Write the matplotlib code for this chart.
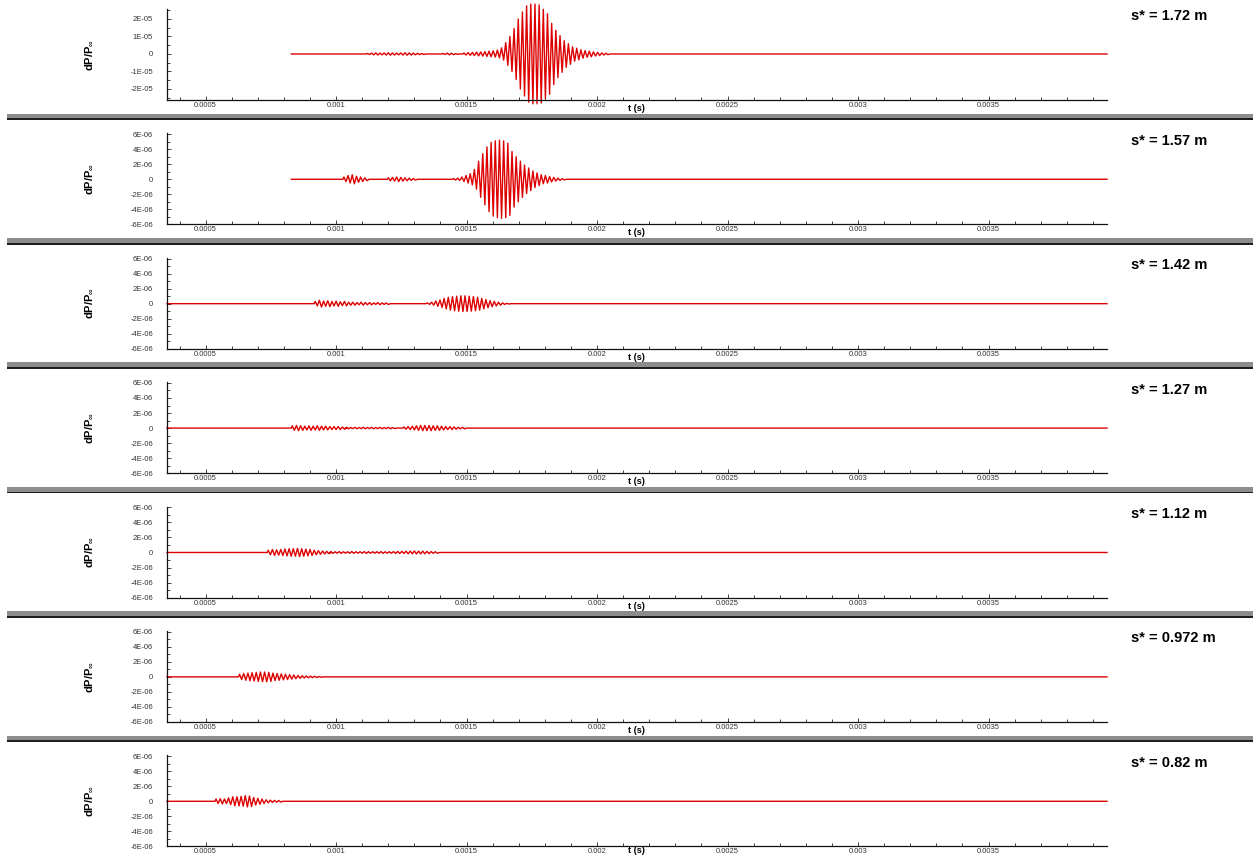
import numpy as np
import matplotlib
matplotlib.use('Agg')
import matplotlib.pyplot as plt
from matplotlib.patches import Rectangle
from matplotlib.ticker import FixedLocator, MultipleLocator

plt.rcParams['font.family'] = ['Liberation Sans', 'DejaVu Sans']
plt.rcParams['mathtext.fontset'] = 'custom'
plt.rcParams['mathtext.rm'] = 'Liberation Sans'
plt.rcParams['mathtext.bf'] = 'Liberation Sans:bold'

### station labels, one per panel (top to bottom)
stations = ['s* = 1.72 m', 's* = 1.57 m', 's* = 1.42 m', 's* = 1.27 m',
            's* = 1.12 m', 's* = 0.972 m', 's* = 0.82 m']

### time axis
t_min = 0.000352
t_max = 0.003954
x_ticks = [0.0005, 0.001, 0.0015, 0.002, 0.0025, 0.003, 0.0035]
x_labels = ['0.0005', '0.001', '0.0015', '0.002', '0.0025', '0.003', '0.0035']

### y ticks
y_ticks_big = [2e-5, 1e-5, 0, -1e-5, -2e-5]
y_labels_big = ['2E-05', '1E-05', '0', '-1E-05', '-2E-05']
y_ticks_small = [6e-6, 4e-6, 2e-6, 0, -2e-6, -4e-6, -6e-6]
y_labels_small = ['6E-06', '4E-06', '2E-06', '0', '-2E-06', '-4E-06', '-6E-06']

### where each trace starts (s)
trace_start = [0.000828, 0.000828, t_min, t_min, t_min, t_min, t_min]

### wave packets: (start time in s, peak amplitude per 16 us cycle in 1E-06)
cycle = 16e-6

packets_172 = [
    (0.00112, [0.3, 0.5, 0.6, 0.5, 0.6, 0.7, 0.6, 0.5, 0.6, 0.7, 0.6, 0.5, 0.4, 0.3]),
    (0.00141, [0.3, 0.5, 0.4, 0.2]),
    (0.00149, [0.6, 0.8, 0.9, 1.1, 1.2, 1.4, 1.6, 1.8, 2.2, 3.5, 6.5, 10, 14.5, 20,
               24, 27.5, 28.5, 28.5, 28, 25.5, 23, 17.5, 13.5, 10.5, 7.6, 5.9, 4.1,
               3.3, 2.4, 1.9, 1.6, 1.2, 0.9, 0.6, 0.4]),
]
packets_157 = [
    (0.00103, [0.3, 0.5, 0.6, 0.4, 0.3, 0.2]),
    (0.00120, [0.2, 0.25, 0.3, 0.25, 0.2, 0.15, 0.1]),
    (0.00145, [0.1, 0.15, 0.3, 0.5, 0.75, 1.3, 2.4, 3.4, 4.3, 4.9, 5.1, 5.2, 5.1,
               4.8, 3.7, 3.0, 2.4, 1.9, 1.5, 1.1, 0.85, 0.6, 0.5, 0.35, 0.25, 0.15,
               0.08]),
]
packets_142 = [
    (0.00092, [0.3, 0.45, 0.35, 0.4, 0.3, 0.35, 0.25, 0.3, 0.2, 0.2, 0.15, 0.2,
               0.15, 0.15, 0.1, 0.15, 0.1, 0.1]),
    (0.00135, [0.1, 0.2, 0.35, 0.5, 0.7, 0.85, 0.95, 1.0, 1.05, 1.05, 1.0, 0.95,
               0.85, 0.7, 0.55, 0.4, 0.3, 0.2, 0.1, 0.05]),
]
packets_127 = [
    (0.000832, [0.3, 0.35, 0.3, 0.25, 0.3, 0.25, 0.3, 0.25, 0.25, 0.2, 0.2, 0.2,
                0.15]),
    (0.00104, [0.1, 0.08, 0.1, 0.08, 0.1, 0.08, 0.1, 0.08, 0.1, 0.08, 0.1, 0.08]),
    (0.00126, [0.15, 0.2, 0.25, 0.3, 0.35, 0.35, 0.35, 0.3, 0.3, 0.25, 0.2, 0.2,
               0.15, 0.1, 0.1]),
]
packets_112 = [
    (0.00074, [0.3, 0.4, 0.35, 0.4, 0.45, 0.5, 0.5, 0.55, 0.5, 0.45, 0.4, 0.3,
               0.25, 0.2, 0.15]),
    (0.00098, [0.12, 0.1, 0.12, 0.1, 0.1, 0.12, 0.1, 0.1, 0.12, 0.1, 0.1, 0.1,
               0.12, 0.1, 0.1, 0.12, 0.14, 0.15, 0.18, 0.18, 0.2, 0.18, 0.18, 0.15,
               0.12, 0.1]),
]
packets_0972 = [
    (0.00063, [0.35, 0.45, 0.5, 0.55, 0.6, 0.65, 0.65, 0.6, 0.5, 0.45, 0.4, 0.35,
               0.3, 0.25, 0.2, 0.15, 0.12, 0.1, 0.08, 0.05]),
]
packets_082 = [
    (0.00054, [0.3, 0.35, 0.3, 0.45, 0.6, 0.6, 0.65, 0.75, 0.7, 0.5, 0.4, 0.3,
               0.2, 0.15, 0.12, 0.1]),
]
all_packets = [packets_172, packets_157, packets_142, packets_127,
               packets_112, packets_0972, packets_082]


def build_trace(t_first, t_last, packets):
    ### flat line with the listed peaks drawn as alternating +/- excursions
    t = [t_first]
    y = [0.0]
    for t0, amps in packets:
        t.append(t0 - cycle / 4)
        y.append(0.0)
        for i, a in enumerate(amps):
            t += [t0 + i * cycle, t0 + i * cycle + cycle / 2]
            y += [a * 1e-6, -a * 1e-6]
        t.append(t0 + len(amps) * cycle)
        y.append(0.0)
    t.append(t_last)
    y.append(0.0)
    return np.array(t), np.array(y)


W, H = 1253, 856
fig = plt.figure(figsize=(W / 100, H / 100), dpi=100)
pitch = 124.4

for k in range(7):
    top = 9 + pitch * k
    bottom = 100 + pitch * k
    ax = fig.add_axes([167 / W, 1 - bottom / H, 940 / W, (bottom - top) / H])

    t, y = build_trace(trace_start[k], t_max, all_packets[k])
    ax.plot(t, y, color='#dd0000', lw=1.0, clip_on=False)

    ax.set_xlim(t_min, t_max)
    if k == 0:
        ax.set_ylim(-2.63e-5, 2.57e-5)
        ax.yaxis.set_major_locator(FixedLocator(y_ticks_big))
        ax.set_yticklabels(y_labels_big)
        ax.yaxis.set_minor_locator(MultipleLocator(0.5e-5))
    else:
        ax.set_ylim(-6e-6, 6.1e-6)
        ax.yaxis.set_major_locator(FixedLocator(y_ticks_small))
        ax.set_yticklabels(y_labels_small)
        ax.yaxis.set_minor_locator(MultipleLocator(1e-6))

    ax.xaxis.set_major_locator(FixedLocator(x_ticks))
    ax.set_xticklabels(x_labels)
    ax.xaxis.set_minor_locator(MultipleLocator(0.0001))

    ### thin inward ticks, small grey labels
    ax.tick_params(axis='both', which='both', direction='in', width=0.6,
                   colors='#222222', labelsize=5.5, labelcolor='#333333')
    ax.tick_params(axis='both', which='major', length=3)
    ax.tick_params(axis='both', which='minor', length=2)
    ax.tick_params(axis='x', pad=1.5)
    ax.tick_params(axis='y', pad=10)

    for side in ['top', 'right']:
        ax.spines[side].set_visible(False)
    for side in ['left', 'bottom']:
        ax.spines[side].set_linewidth(0.9)
        ax.spines[side].set_color('#111111')

    ### axis labels and station label
    fig.text(89 / W, 1 - (top + bottom) / 2 / H, r'$\mathbf{dP/P}_{\infty}$',
             rotation=90, ha='center', va='center', fontsize=8)
    t_label_y = min(108.5 + pitch * k, 850.5)
    fig.text(636 / W, 1 - t_label_y / H, 't (s)', ha='center',
             va='center', fontsize=6.5, fontweight='bold')
    fig.text(1131 / W, 1 - (16.5 + pitch * k) / H, stations[k], ha='left',
             va='center', fontsize=10.5, fontweight='bold')

### grey separator bars between the panels
for k in range(6):
    top = 113.5 + pitch * k
    fig.add_artist(Rectangle((7 / W, 1 - (top + 4.8) / H), (W - 7) / W, 4.8 / H,
                             transform=fig.transFigure, facecolor='#8c8c8c',
                             edgecolor='none'))
    fig.add_artist(Rectangle((7 / W, 1 - (top + 6.6) / H), (W - 7) / W, 1.8 / H,
                             transform=fig.transFigure, facecolor='#1e1e1e',
                             edgecolor='none'))

fig.savefig('out.png', dpi=100)
